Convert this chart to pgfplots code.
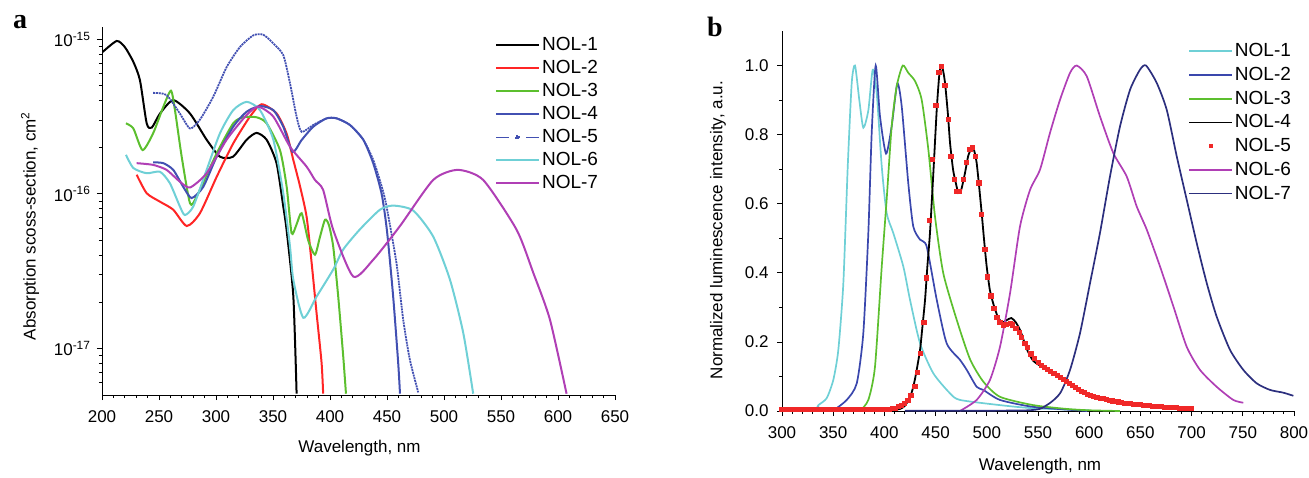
\documentclass[border=0pt]{standalone}
\usepackage{fontspec}
\setmainfont{Liberation Sans}
\newfontfamily\lettfont{Liberation Serif}
\usepackage{pgfplots}
\pgfplotsset{compat=1.18}
\definecolor{cA}{HTML}{FF2525}
\definecolor{gA}{HTML}{5CBF2E}
\definecolor{bA}{HTML}{4250B2}
\definecolor{cyA}{HTML}{6FD0D6}
\definecolor{mA}{HTML}{B03FB5}
\definecolor{bB}{HTML}{3A47AD}
\definecolor{nB}{HTML}{2C2F7E}
\definecolor{rB}{HTML}{F02828}
\pgfplotsset{
  nolaxis/.style={
    scale only axis,
    axis x line*=bottom, axis y line*=left,
    axis line style={-,line width=0.9pt},
    tick align=outside,
    major tick length=5pt, minor tick length=3pt,
    tick style={black,line width=0.8pt},
    tick label style={font=\fontsize{17}{20}\selectfont},
    xticklabel style={yshift=-7pt},
    label style={font=\fontsize{17}{20}\selectfont},
    /pgf/number format/assume math mode=true,
    /pgf/number format/1000 sep={},
    legend cell align=left,
    legend style={draw=none,fill=none,font=\fontsize{19}{22}\selectfont,
      nodes={inner sep=2pt,text height=14pt,text depth=3pt},row sep=2pt},
    legend image code/.code={\draw[##1] (0pt,0pt) -- (43pt,0pt);},
    every axis plot/.append style={line width=2pt,smooth,tension=0.4},
  }
}
\begin{document}
\begin{tikzpicture}
% ---------------- panel a: absorption ----------------
\begin{axis}[nolaxis, at={(102pt,82pt)}, anchor=south west,
  width=513pt, height=368pt,
  xmin=200, xmax=650, xtick={200,250,...,650}, minor x tick num=4,
  ymode=log, ymin=5e-18, ymax=1.2e-15,
  ytick={1e-17,1e-16,1e-15},
  yticklabels={10\textsuperscript{-17},10\textsuperscript{-16},10\textsuperscript{-15}},
  yticklabel style={xshift=-3pt},
  minor ytick={6e-18,7e-18,8e-18,9e-18,2e-17,3e-17,4e-17,5e-17,6e-17,7e-17,8e-17,9e-17,
    2e-16,3e-16,4e-16,5e-16,6e-16,7e-16,8e-16,9e-16},
  xlabel={Wavelength, nm},
  ylabel={Absorption scoss-section, cm\textsuperscript{2}},
  xlabel style={at={(axis description cs:0.502,-0.144)},anchor=center},
  ylabel style={at={(axis description cs:-0.14,0.459)},anchor=center},
  legend style={at={(axis description cs:0.760,0.985)},anchor=north west},
]
\addplot[black] coordinates {(200.6,8.28e-16)(212.9,9.75e-16)(220,8.91e-16)(227.5,7.14e-16)
 (233.3,5.43e-16)(239.2,2.86e-16)(243.6,2.68e-16)(250.9,3.31e-16)(262.5,4.04e-16)
 (277.2,3.31e-16)(291.8,2.24e-16)(303.5,1.74e-16)(314.9,1.74e-16)(326.9,2.24e-16)
 (335.6,2.48e-16)(344.4,2.24e-16)(353.1,1.58e-16)(359,8.3e-17)(361.9,5.86e-17)
 (367.8,2.19e-17)(370.7,5.1e-18)};
\addplot[cA] coordinates {(230.4,1.33e-16)(239.2,1.01e-16)(250.9,8.9e-17)(262.5,7.9e-17)
 (274.3,6.2e-17)(285.9,7.5e-17)(300.6,1.29e-16)(315.1,2.12e-16)(329.8,3.16e-16)
 (340,3.8e-16)(353.2,3.31e-16)(362,2.45e-16)(367.8,1.66e-16)(373.7,1.12e-16)
 (379.5,7.1e-17)(383.9,3.57e-17)(388.2,1.7e-17)(392.6,8.1e-18)(394,5.1e-18)};
\addplot[gA] coordinates {(221,2.86e-16)(227.5,2.65e-16)(235.6,1.92e-16)(244.9,2.47e-16)
 (253.8,3.66e-16)(260.5,4.65e-16)(264,3.48e-16)(269.9,1.74e-16)(277.2,8.7e-17)
 (283,9.6e-17)(300.6,1.83e-16)(315.1,2.86e-16)(323.9,3.13e-16)(335.6,3.13e-16)
 (344.4,2.86e-16)(356.1,1.92e-16)(362,1.11e-16)(366.3,5.57e-17)(370.5,6.3e-17)
 (375.1,7.5e-17)(380.9,5.0e-17)(386.8,4.04e-17)(391,5.2e-17)(395.6,6.8e-17)
 (399,6.3e-17)(402.8,4.57e-17)(407.2,2.17e-17)(411.6,8.9e-18)(414,5.1e-18)};
\addplot[bA] coordinates {(244.9,1.6e-16)(253.8,1.58e-16)(262.5,1.43e-16)(271.3,1.11e-16)
 (278.6,9.4e-17)(288.8,1.11e-16)(300.6,1.74e-16)(315.1,2.72e-16)(326.9,3.4e-16)
 (338.6,3.7e-16)(350.3,3.48e-16)(359,2.72e-16)(367.2,1.87e-16)(375.1,2.23e-16)
 (385.3,2.72e-16)(397,3.08e-16)(405.8,3.08e-16)(417.5,2.79e-16)(429.2,2.24e-16)
 (437.9,1.58e-16)(445.3,1.0e-16)(450,5.75e-17)(455.4,2.17e-17)(459.8,8.1e-18)(461.4,5.1e-18)};
\addplot[bA,line width=1.8pt,dash pattern=on 2pt off 0.8pt,
  legend image code/.code={\draw[solid,bA,line width=0.9pt] (0pt,0pt)--(13pt,0pt);
    \draw[solid,bA,line width=0.9pt] (30pt,0pt)--(43pt,0pt);
    \fill[bA] (20.2pt,-1.3pt) rectangle (22.8pt,1.3pt);}]
 coordinates {(244.9,4.5e-16)(256.6,4.36e-16)(268.3,3.31e-16)(277.2,2.65e-16)
 (285.9,3.02e-16)(297.6,4.25e-16)(309.3,6.6e-16)(321,8.9e-16)(332.7,1.06e-15)
 (341.5,1.07e-15)(350.3,9.4e-16)(359,7.9e-16)(364.9,5.2e-16)(370.7,3.16e-16)
 (375.1,2.52e-16)(385.3,2.79e-16)(397,3.08e-16)(405.8,3.08e-16)(417.5,2.79e-16)
 (429.2,2.24e-16)(437.9,1.66e-16)(445.3,1.12e-16)(449.6,8.3e-17)(458.3,3.57e-17)
 (464.2,1.54e-17)(470,8.5e-18)(477.4,5.2e-18)};
\addplot[cyA] coordinates {(221,1.79e-16)(227.5,1.47e-16)(239.2,1.36e-16)(250.9,1.39e-16)
 (259.6,1.17e-16)(268.3,8.3e-17)(272.7,7.3e-17)(280.1,8.3e-17)(291.8,1.43e-16)
 (303.5,2.47e-16)(315.1,3.48e-16)(326.9,3.94e-16)(338.6,3.48e-16)(350.3,2.24e-16)
 (359,1.01e-16)(364.9,4.57e-17)(367.8,2.79e-17)(376.6,1.58e-17)(388.3,2.17e-17)
 (402.8,3.24e-17)(411.6,4.37e-17)(426.3,5.9e-17)(443.8,7.9e-17)(455.5,8.4e-17)
 (473,7.8e-17)(490.5,5.3e-17)(505.2,2.79e-17)(516.9,1.26e-17)(525.6,5.1e-18)};
\addplot[mA] coordinates {(230.4,1.58e-16)(244.9,1.54e-16)(256.6,1.43e-16)(268.3,1.2e-16)
 (277.2,1.1e-16)(291.8,1.36e-16)(309.3,2.24e-16)(326.9,3.24e-16)(337.1,3.66e-16)
 (350.3,3.16e-16)(364.9,2.02e-16)(379.5,1.5e-16)(386.8,1.23e-16)(394,1.06e-16)
 (402.8,5.86e-17)(420.4,2.92e-17)(437.9,3.75e-17)(461.4,6.2e-17)(490.5,1.23e-16)
 (512,1.43e-16)(534.4,1.23e-16)(563.7,5.86e-17)(578.3,3.09e-17)(592.9,1.54e-17)(607.5,5.1e-18)};
\legend{NOL-1,NOL-2,NOL-3,NOL-4,NOL-5,NOL-6,NOL-7}
\end{axis}
% ---------------- panel b: luminescence ----------------
\begin{axis}[nolaxis, at={(782pt,66pt)}, anchor=south west,
  width=512pt, height=380pt,
  xmin=300, xmax=800, xtick={300,350,...,800}, minor x tick num=4,
  ymin=0, ymax=1.1, ytick={0,0.2,0.4,0.6,0.8,1}, minor y tick num=1,
  yticklabel style={xshift=-5pt,/pgf/number format/fixed,/pgf/number format/fixed zerofill,
    /pgf/number format/precision=1},
  xlabel={Wavelength, nm},
  ylabel={Normalized luminescence intensity, a.u.},
  xlabel style={at={(axis description cs:0.504,-0.145)},anchor=center},
  ylabel style={at={(axis description cs:-0.125,0.476)},anchor=center},
  legend style={at={(axis description cs:0.787,0.980)},anchor=north west,row sep=2.7pt},
  every axis plot/.append style={line width=1.7pt},
]
\addplot[cyA] coordinates {(300,0)(330.6,0.002)(335.5,0.017)(343.6,0.037)
 (350.1,0.09)(355,0.177)(359.9,0.37)(364.2,0.708)(368.1,0.95)(371.3,1.0)(375.5,0.90)
 (379.4,0.82)(384.3,0.87)(388.6,0.988)(392.5,0.92)(397.4,0.708)(402.2,0.573)
 (408.7,0.515)(418.5,0.418)(425,0.322)(434.8,0.196)(447.8,0.109)(464.1,0.051)
 (473.8,0.032)(512.9,0.017)(545.4,0.008)(600,0.002)};
\addplot[bB] coordinates {(300,0.001)(330,0.002)(335.5,0.01)(342,0.002)(350,0.002)
 (363.2,0.032)(373,0.08)(379.4,0.225)(384.3,0.515)(387.6,0.805)(391.5,1.0)(395.7,0.853)
 (401.6,0.745)(407.1,0.824)(412.6,0.948)(416.9,0.882)(423.3,0.66)(428.2,0.534)
 (434.8,0.496)(441.3,0.476)(451.1,0.322)(460.8,0.196)(473.8,0.148)(480.4,0.119)
 (490.1,0.07)(496.6,0.061)(512.9,0.032)(545.4,0.012)(597.9,0)};
\addplot[gA] coordinates {(376.2,0)(384.3,0.032)(390.8,0.128)(397.4,0.418)
 (402.2,0.612)(407.1,0.824)(412,0.94)(417.9,1.0)(423.3,0.979)(429.9,0.955)(436.4,0.901)
 (442.9,0.757)(449.4,0.563)(457.5,0.399)(470.6,0.264)(483.6,0.15)(496.6,0.085)
 (512.9,0.041)(545.4,0.017)(578,0.006)(600.8,0.002)(630,0)};
\addplot[black,line width=1.8pt] coordinates {(400,0.002)(410,0.004)(415.2,0.006)(420,0.015)
 (425,0.04)(428.2,0.07)(431,0.11)(434.8,0.177)(437,0.24)(439.7,0.322)(442,0.42)
 (444.5,0.515)(447.8,0.689)(451.1,0.872)(453.5,0.97)(455.3,1.0)(457,0.99)(459.2,0.95)
 (462,0.86)(464.1,0.776)(467,0.7)(469,0.67)(472.2,0.631)(475,0.64)(478.7,0.689)
 (482,0.74)(486.2,0.765)(488,0.75)(490.1,0.718)(492.5,0.65)(495,0.573)(497.5,0.49)
 (499.9,0.418)(503,0.35)(506.4,0.31)(510,0.278)(513,0.262)(516,0.257)(520,0.264)
 (524,0.269)(528,0.258)(532.4,0.235)(536,0.205)(539,0.18)(542.2,0.16)(545.4,0.145)
 (550,0.135)(555,0.127)(560,0.12)};
\addplot[only marks,mark=square*,mark size=1.7pt,rB,draw=none,
  legend image code/.code={\fill[rB] (20pt,-1.8pt) rectangle (23.6pt,1.8pt);}]
 coordinates {(300,0.004)(303,0.004)(306,0.004)(309,0.004)(312,0.004)(315,0.004)(318,0.004)
 (321,0.004)(324,0.004)(327,0.004)(330,0.004)(333,0.004)(336,0.004)(339,0.004)(342,0.004)
 (345,0.004)(348,0.004)(351,0.004)(354,0.004)(357,0.004)(360,0.004)(363,0.004)(366,0.004)
 (369,0.004)(372,0.004)(375,0.004)(378,0.004)(381,0.004)(384,0.004)(387,0.004)(390,0.004)
 (393,0.004)(396,0.004)(399,0.004)(402,0.004)(405,0.005)(408,0.006)(411,0.008)(414,0.012)
 (417,0.016)(420,0.022)(423,0.03)(426,0.045)(429.9,0.07)(432.5,0.111)(435.5,0.167)
 (438.7,0.256)(441.3,0.385)(444.2,0.552)(447.2,0.728)(450.4,0.884)(453.3,0.981)(456,0.996)
 (459.2,0.943)(462.4,0.843)(465,0.737)(468.3,0.67)(470.6,0.636)(473.2,0.636)(477.1,0.67)
 (480.4,0.72)(483.6,0.757)(486.2,0.764)(489.2,0.737)(492.4,0.66)(495,0.568)(498.2,0.467)
 (500.9,0.388)(504.1,0.333)(507,0.298)(510,0.271)(512.9,0.256)(516.1,0.249)(519.4,0.251)
 (522.7,0.252)(525.3,0.249)(528.5,0.24)(531.5,0.227)(534.1,0.214)(537.3,0.196)(539.9,0.184)
 (543.2,0.165)(546.4,0.153)(550.3,0.14)(553.6,0.133)(556.6,0.126)(559.6,0.12)(562.6,0.114)
 (565.6,0.108)(568.6,0.102)(571.6,0.097)(574.6,0.091)(577.6,0.085)(580.6,0.079)(583.6,0.073)
 (586.6,0.067)(589.6,0.062)(592.6,0.057)(595.6,0.053)(598.6,0.049)(601.6,0.045)(604.6,0.042)
 (607.6,0.04)(610.6,0.037)(613.6,0.035)(616.6,0.033)(619.6,0.031)(622.6,0.029)(625.6,0.028)
 (628.6,0.026)(631.6,0.025)(634.6,0.023)(637.6,0.022)(640.6,0.021)(643.6,0.02)(646.6,0.019)
 (649.6,0.018)(652.6,0.017)(655.6,0.016)(658.6,0.015)(661.6,0.014)(664.6,0.013)(667.6,0.012)
 (670.6,0.012)(673.6,0.011)(676.6,0.011)(679.6,0.01)(682.6,0.009)(685.6,0.009)(688.6,0.008)
 (691.6,0.008)(694.6,0.007)(697.6,0.007)(700,0.007)};
\addplot[mA] coordinates {(473.8,0)(490.1,0.032)(503.1,0.09)(512.9,0.186)
 (522.7,0.341)(532.4,0.534)(542.2,0.64)(552,0.699)(561.7,0.805)(571.5,0.901)(581.3,0.979)
 (587.8,1.0)(597.6,0.969)(610.5,0.853)(623.5,0.747)(636.6,0.679)(646.4,0.592)(656.2,0.525)
 (669.2,0.418)(682.3,0.302)(695.2,0.186)(708.2,0.119)(724.5,0.07)(740.7,0.032)(750.5,0.024)};
\addplot[nB] coordinates {(420,0.001)(540,0.002)(558.5,0.017)(571.5,0.051)
 (581.3,0.119)(591,0.225)(600.8,0.37)(610.5,0.515)(620.3,0.679)(630.1,0.824)(639.9,0.93)
 (649.6,0.988)(655.5,1.0)(665.9,0.95)(675.7,0.872)(685.5,0.737)(695.2,0.612)(705,0.486)
 (714.8,0.37)(724.5,0.273)(737.5,0.177)(750.5,0.119)(763.6,0.08)(776.6,0.061)(789.6,0.053)
 (799.4,0.044)};
\legend{NOL-1,NOL-2,NOL-3,NOL-4,NOL-5,NOL-6,NOL-7}
\end{axis}
\node[anchor=base west,inner sep=0pt,font={\fontsize{28}{30}\selectfont\lettfont\bfseries}] at (13pt,448.7pt) {a};
\node[anchor=base west,inner sep=0pt,font={\fontsize{28}{30}\selectfont\lettfont\bfseries}] at (707pt,440.3pt) {b};
\pgfresetboundingbox
\useasboundingbox (0pt,0pt) rectangle (1309pt,477pt);
\end{tikzpicture}
\end{document}
